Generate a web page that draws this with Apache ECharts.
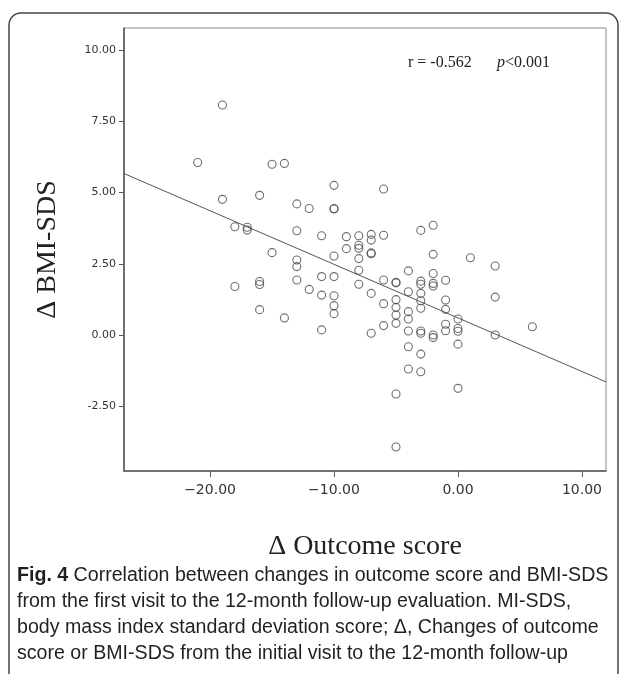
<!DOCTYPE html>
<html>
<head>
<meta charset="utf-8">
<script src="https://cdn.jsdelivr.net/npm/echarts@6/dist/echarts.min.js"></script>
<style>
  html, body { margin: 0; padding: 0; background: #fff; }
  #chart { width: 625px; height: 674px; }
</style>
</head>
<body>
<div id="chart"></div>
<script>
// Δ outcome score (x) and Δ BMI-SDS (y), one entry per child
const outcomeDelta = [
  -21,
  -19, -19,
  -18, -18,
  -17, -17,
  -16, -16, -16, -16,
  -15, -15,
  -14, -14,
  -13, -13, -13, -13, -13,
  -12, -12,
  -11, -11, -11, -11,
  -10, -10, -10, -10, -10, -10, -10, -10,
  -9, -9,
  -8, -8, -8, -8, -8, -8,
  -7, -7, -7, -7, -7, -7,
  -6, -6, -6, -6, -6,
  -5, -5, -5, -5, -5, -5, -5, -5,
  -4, -4, -4, -4, -4, -4, -4,
  -3, -3, -3, -3, -3, -3, -3, -3, -3, -3,
  -2, -2, -2, -2, -2, -2, -2,
  -1, -1, -1, -1, -1,
  0, 0, 0, 0, 0,
  1,
  3, 3, 3,
  6
];
const bmiDelta = [
  6.05,
  8.07, 4.76,
  3.80, 1.70,
  3.78, 3.68,
  4.90, 1.88, 1.77, 0.89,
  5.99, 2.89,
  6.02, 0.60,
  4.60, 3.66, 2.63, 2.40, 1.93,
  4.44, 1.60,
  3.48, 2.05, 1.40, 0.18,
  5.25, 4.44, 4.42, 2.77, 2.05, 1.38, 1.03, 0.75,
  3.45, 3.03,
  3.48, 3.15, 3.04, 2.68, 2.27, 1.78,
  3.53, 3.33, 2.88, 2.85, 1.46, 0.06,
  5.12, 3.50, 1.93, 1.10, 0.33,
  1.85, 1.83, 1.24, 0.97, 0.70, 0.41, -2.07, -3.93,
  2.25, 1.52, 0.82, 0.56, 0.14, -0.41, -1.19,
  3.67, 1.89, 1.78, 1.46, 1.20, 0.94, 0.14, 0.06, -0.67, -1.29,
  3.85, 2.83, 2.16, 1.81, 1.72, 0.00, -0.09,
  1.92, 1.23, 0.90, 0.38, 0.15,
  0.56, 0.23, 0.13, -0.32, -1.87,
  2.71,
  2.42, 1.33, 0.00,
  0.29
];

// fitted line as drawn in the figure
const fitSlope = -0.188;
const fitIntercept = 0.60;

const xTicks = [-20, -10, 0, 10];
const yTicks = [-2.5, 0, 2.5, 5, 7.5, 10];
const xRange = [-26.94, 11.94];
const yRange = [-4.77, 10.77];

const rText = 'r = -0.562';
const pText = 'p';
const pRest = '<0.001';
const captionLines = [
  ['Fig. 4', ' Correlation between changes in outcome score and BMI-SDS'],
  ['', 'from the first visit to the 12-month follow-up evaluation. MI-SDS,'],
  ['', 'body mass index standard deviation score; \u0394, Changes of outcome'],
  ['', 'score or BMI-SDS from the initial visit to the 12-month follow-up']
];

const points = outcomeDelta.map((x, i) => [x, bmiDelta[i]]);
const fitLine = xRange.map(x => [x, fitIntercept + fitSlope * x]);

const chart = echarts.init(document.getElementById('chart'));

const captionGraphics = captionLines.map((ln, i) => ({
  type: 'text',
  left: 17,
  top: 566 + i * 26,
  style: {
    text: (ln[0] ? '{b|' + ln[0] + '}' : '') + '{r|' + ln[1] + '}',
    rich: {
      b: { fontFamily: 'Liberation Sans', fontWeight: 'bold', fontSize: 19.6, fill: '#231f20' },
      r: { fontFamily: 'Liberation Sans', fontSize: 19.6, fill: '#231f20' }
    }
  }
}));

const option = {
  animation: false,
  backgroundColor: '#fff',
  grid: {
    left: 124, right: 19, top: 28, bottom: 203,
    show: true, borderColor: '#8a8a8a', borderWidth: 1
  },
  xAxis: {
    type: 'value',
    min: xRange[0], max: xRange[1],
    name: '\u0394 Outcome score',
    nameLocation: 'middle',
    nameGap: 62,
    nameTextStyle: { fontFamily: 'Liberation Serif', fontSize: 28, color: '#222' },
    splitLine: { show: false },
    axisLine: { show: true, onZero: false, lineStyle: { color: '#555', width: 1.5 } },
    axisTick: { show: true, customValues: xTicks, length: 6, lineStyle: { color: '#555' } },
    axisLabel: {
      customValues: xTicks, margin: 12,
      fontFamily: 'DejaVu Sans', fontSize: 14, color: '#333',
      formatter: v => (v < 0 ? '\u2212' : '') + Math.abs(v).toFixed(2)
    }
  },
  yAxis: {
    type: 'value',
    min: yRange[0], max: yRange[1],
    name: '\u0394 BMI-SDS',
    nameLocation: 'middle',
    nameGap: 62,
    nameTextStyle: { fontFamily: 'Liberation Serif', fontSize: 28, color: '#222' },
    splitLine: { show: false },
    axisLine: { show: true, onZero: false, lineStyle: { color: '#555', width: 1.5 } },
    axisTick: { show: true, customValues: yTicks, length: 5, lineStyle: { color: '#555' } },
    axisLabel: {
      customValues: yTicks, margin: 8,
      fontFamily: 'DejaVu Sans', fontSize: 11, color: '#333',
      formatter: v => v.toFixed(2)
    }
  },
  series: [
    {
      type: 'scatter',
      data: points,
      symbol: 'circle',
      symbolSize: 8,
      itemStyle: { color: 'rgba(255,255,255,0)', borderColor: '#4a4a4a', borderWidth: 1.1 },
      z: 3
    },
    {
      type: 'line',
      data: fitLine,
      symbol: 'none',
      lineStyle: { color: '#555', width: 1 },
      z: 2
    }
  ],
  graphic: [
    {
      type: 'rect',
      shape: { x: 9, y: 13, width: 609, height: 720, r: 12 },
      style: { fill: 'none', stroke: '#444', lineWidth: 1.5 },
      silent: true
    },
    {
      type: 'text',
      left: 408,
      top: 55,
      style: {
        text: rText,
        fontFamily: 'Liberation Serif', fontSize: 16, fill: '#222'
      }
    },
    {
      type: 'text',
      right: 75,
      top: 55,
      style: {
        text: '{i|' + pText + '}{a|' + pRest + '}',
        rich: {
          a: { fontFamily: 'Liberation Serif', fontSize: 16, fill: '#222' },
          i: { fontFamily: 'Liberation Serif', fontStyle: 'italic', fontSize: 16, fill: '#222' }
        }
      }
    }
  ].concat(captionGraphics)
};

chart.setOption(option);
</script>
</body>
</html>
